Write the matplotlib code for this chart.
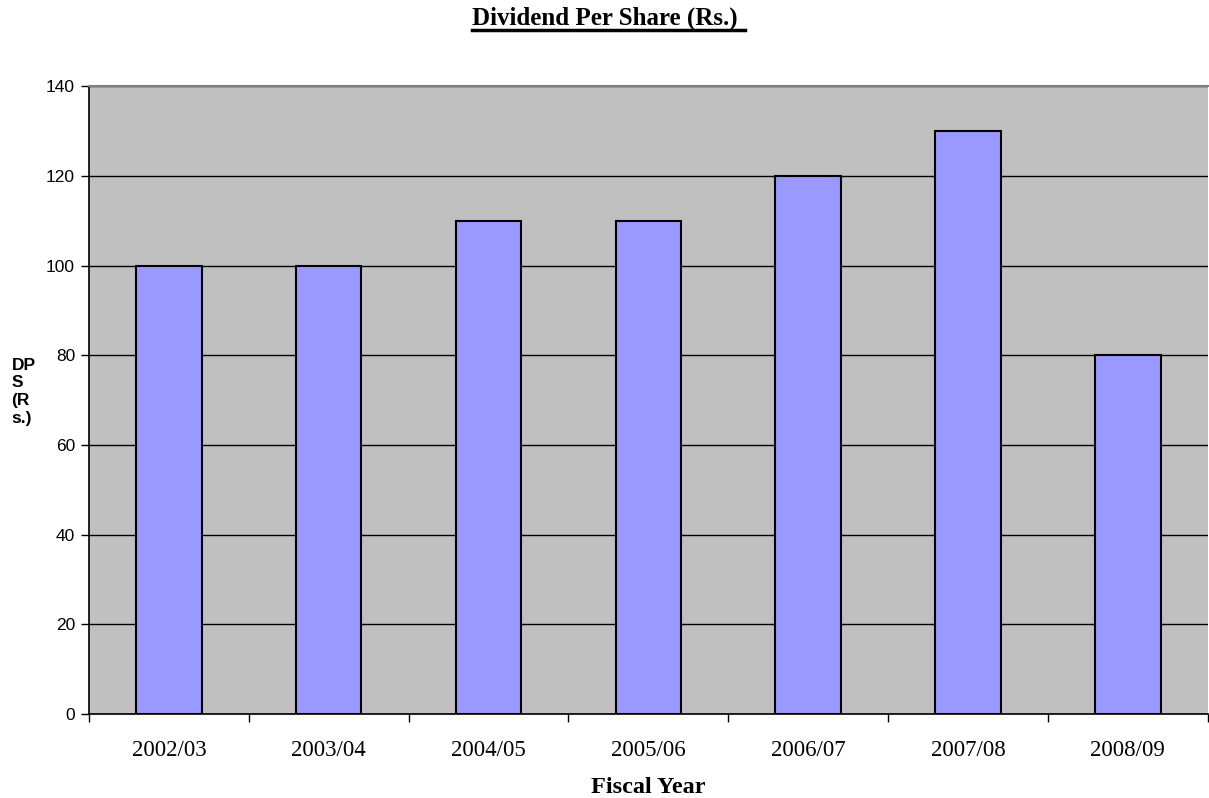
import numpy as np
import matplotlib.pyplot as plt
from matplotlib.lines import Line2D

SERIF = "Liberation Serif"
SANS = "Liberation Sans"

years = ["2002/03", "2003/04", "2004/05", "2005/06", "2006/07", "2007/08", "2008/09"]
dps = [100, 100, 110, 110, 120, 130, 80]
y_ticks = [0, 20, 40, 60, 80, 100, 120, 140]

fig = plt.figure(figsize=(12.09, 7.98), dpi=100)
ax = fig.add_axes([0.0736, 0.1053, 0.9254, 0.7867])
ax.set_facecolor("#C0C0C0")

x = np.arange(len(years))
ax.bar(x, dps, width=0.41, color="#9999FF", edgecolor="black", linewidth=1.5, zorder=3)

ax.set_xlim(-0.5, len(years) - 0.5)
ax.set_ylim(0, 140)
ax.set_yticks(y_ticks)
ax.set_yticklabels([str(v) for v in y_ticks], fontsize=12.5, fontname=SANS)
ax.yaxis.grid(True, color="black", linewidth=1, zorder=1)
ax.set_axisbelow(True)

# category labels centred, tick marks on the category boundaries
ax.set_xticks(x)
ax.set_xticklabels(years, fontsize=16.5, fontname=SERIF)
ax.tick_params(axis="x", which="major", length=0, pad=19)
ax.set_xticks(np.arange(-0.5, len(years), 1.0), minor=True)
ax.tick_params(axis="x", which="minor", length=6, width=1, direction="out")
ax.tick_params(axis="y", length=6, width=1, direction="out", pad=4)

for side in ["left", "bottom"]:
    ax.spines[side].set_linewidth(1.2)
    ax.spines[side].set_color("black")
ax.spines["top"].set_color("#808080")
ax.spines["top"].set_linewidth(1.5)
ax.spines["right"].set_visible(False)

ax.set_xlabel("Fiscal Year", fontsize=17.5, fontname=SERIF, fontweight="bold", labelpad=11)
fig.text(0.0095, 0.509, "DP\nS\n(R\ns.)", fontsize=12.5, fontname=SANS, fontweight="bold",
         ha="left", va="center", linespacing=1.22)

title = fig.text(0.5, 0.9687, "Dividend Per Share (Rs.)", fontsize=18, fontname=SERIF,
                 fontweight="bold", ha="center", va="baseline")
fig.canvas.draw()
bb = title.get_window_extent().transformed(fig.transFigure.inverted())
uy = 0.9624
fig.add_artist(Line2D([bb.x0, bb.x1 + 0.006], [uy, uy], color="black", linewidth=2.5,
                      transform=fig.transFigure))

fig.savefig("out.png", dpi=100)
